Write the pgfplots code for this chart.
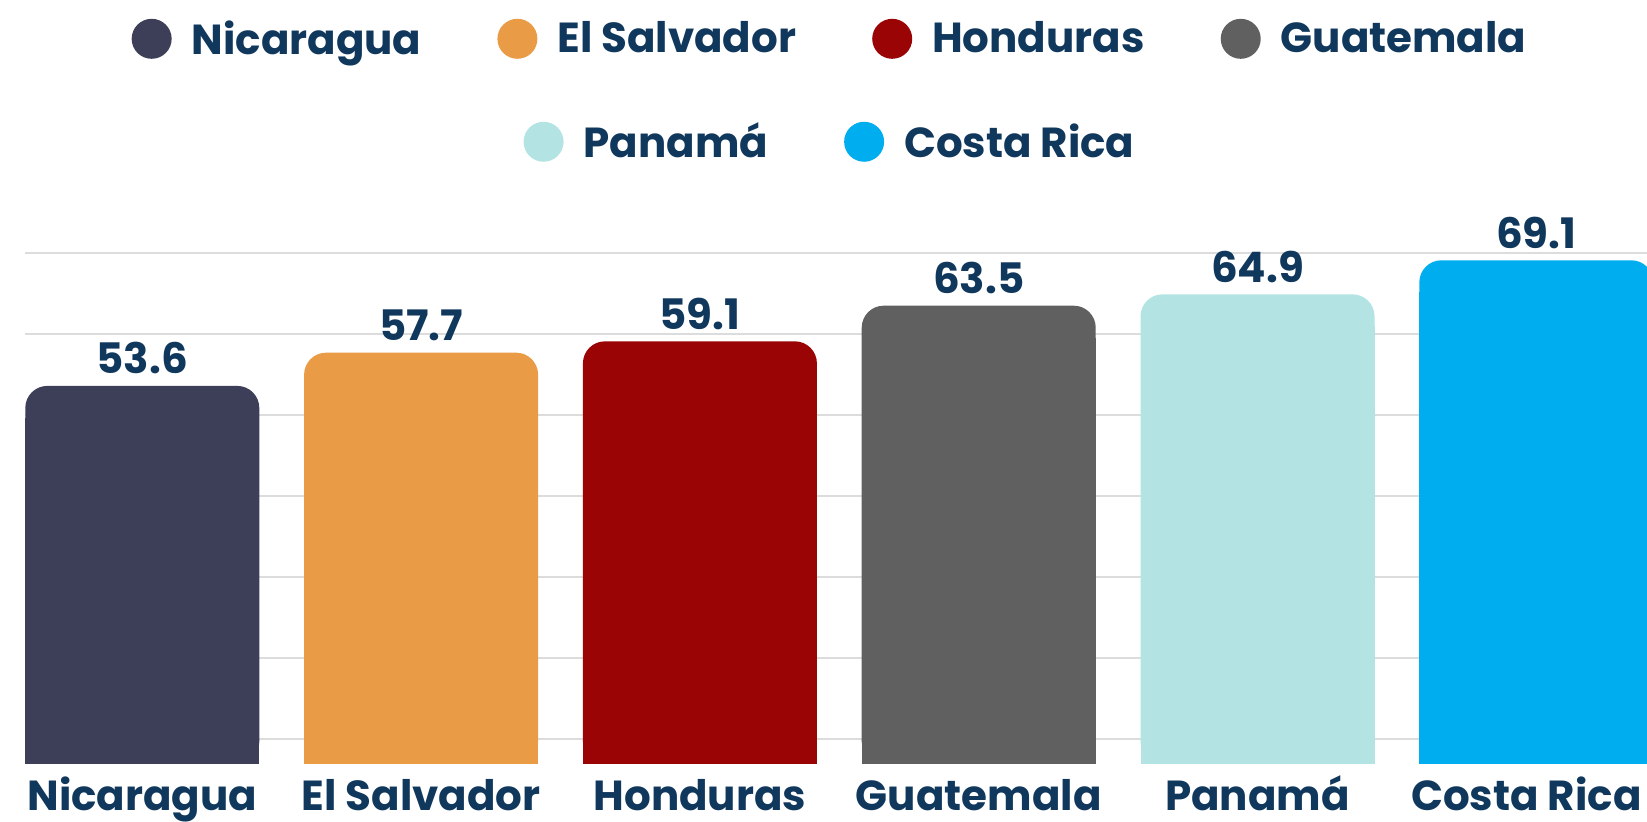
\documentclass[border=0pt]{standalone}
\usepackage{fontspec}
\setmainfont{Poppins}
\usepackage{pgfplots}
\pgfplotsset{compat=1.18}
\definecolor{cNic}{HTML}{3C3F57}
\definecolor{cSal}{HTML}{E99B46}
\definecolor{cHon}{HTML}{9A0404}
\definecolor{cGua}{HTML}{606060}
\definecolor{cPan}{HTML}{B3E3E3}
\definecolor{cCos}{HTML}{00AEEF}
\definecolor{navy}{HTML}{10375C}
\definecolor{gridc}{HTML}{DCDCDC}
\newcommand{\lf}{\fontsize{21}{25}\selectfont\bfseries}
\pgfplotsset{
  circlegend/.style={legend image code/.code={\fill[##1] (0pt,0pt) circle (10pt);}},
  mylegend/.style={legend style={anchor=center, draw=none, fill=none, font=\lf, text=navy,
     nodes={inner sep=0pt}, column sep=10pt,
     /tikz/every even column/.append style={column sep=38pt}}},
  mybox/.style={at={(12.5pt,29.2pt)}, anchor=south west, scale only axis, width=811pt, height=255.3pt},
  barR/.style={draw=none, bar shift=0pt, rounded corners=11pt, circlegend,
     nodes near coords={\pgfmathprintnumber[fixed,precision=1,fixed zerofill,assume math mode=true]{\pgfplotspointmeta}},
     every node near coord/.append style={font=\lf, text=navy, anchor=base, inner sep=0pt, yshift=6pt}},
  barS/.style={draw=none, bar shift=0pt, yshift=-16pt, forget plot},
}
\begin{document}
\begin{tikzpicture}
\path[use as bounding box] (0,0) rectangle (823.5pt,411pt);
\clip (0,0) rectangle (823.5pt,411pt);
\begin{axis}[
  mybox,
  xmin=-0.4207, xmax=5.397, ymin=7, ymax=70,
  ybar, bar width=117pt,
  axis line style={draw=none},
  major tick style={draw=none},
  ytick={10,20,...,70}, yticklabels={},
  ymajorgrids, grid style={gridc, line width=1pt},
  xtick={0,...,5},
  xticklabels={Nicaragua, El Salvador, Honduras, Guatemala, Panamá, {\kern-5pt Costa Rica\kern5pt}},
  xticklabel style={font=\lf, text=navy, anchor=base, inner sep=0pt, yshift=-19pt},
  mylegend, legend columns=4,
  legend style={at={(0.4957,1.4195)}},
]
\addplot[fill=cNic, barS] coordinates {(0,53.6)};
\addplot[fill=cSal, barS] coordinates {(1,57.7)};
\addplot[fill=cHon, barS] coordinates {(2,59.1)};
\addplot[fill=cGua, barS] coordinates {(3,63.5)};
\addplot[fill=cPan, barS] coordinates {(4,64.9)};
\addplot[fill=cCos, barS] coordinates {(5,69.1)};
\addplot[fill=cNic, barR] coordinates {(0,53.6)};
\addplot[fill=cSal, barR] coordinates {(1,57.7)};
\addplot[fill=cHon, barR] coordinates {(2,59.1)};
\addplot[fill=cGua, barR] coordinates {(3,63.5)};
\addplot[fill=cPan, barR] coordinates {(4,64.9)};
\addplot[fill=cCos, barR] coordinates {(5,69.1)};
\legend{Nicaragua, El Salvador, Honduras, Guatemala}
\end{axis}
\begin{axis}[
  mybox, hide axis,
  xmin=0, xmax=1, ymin=0, ymax=1,
  mylegend, legend columns=2,
  legend style={at={(0.4957,1.2178)}},
]
\addlegendimage{circlegend, fill=cPan, draw=none}
\addlegendentry{Panamá}
\addlegendimage{circlegend, fill=cCos, draw=none}
\addlegendentry{Costa Rica}
\end{axis}
\end{tikzpicture}
\end{document}
